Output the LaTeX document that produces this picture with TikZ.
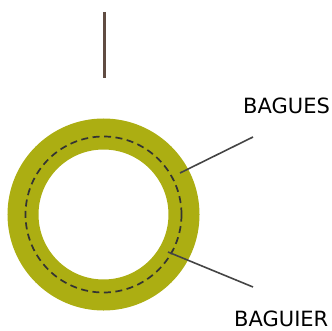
\documentclass[tikz,border=0pt]{standalone}
\usepackage{fontspec}
\setmainfont{DejaVu Sans}
\usepackage{tikz}
\usetikzlibrary{positioning, calc}

\definecolor{ringolive}{RGB}{172,174,18}
\definecolor{stembrown}{RGB}{96,76,66}
\definecolor{leadergray}{RGB}{68,68,68}

\begin{document}
\begin{tikzpicture}[x=1pt, y=1pt,
    % Node styles
    label/.style={anchor=base west, inner sep=0pt, font=\fontsize{21}{24}\selectfont},
    % Line styles
    ring/.style={draw=ringolive, line width=31pt},
    joint/.style={draw=black!80, line width=1.7pt, dash pattern=on 7pt off 4.5pt},
    stem/.style={draw=stembrown, line width=2.6pt},
    leader/.style={draw=leadergray, line width=1.6pt}
]
\useasboundingbox (0,0) rectangle (332,330);
% Ring and joint
\coordinate (c) at (103.5,115.5);
\draw[ring] (c) circle (80.5pt);
\draw[joint] (c) circle (78pt);
% Stem
\coordinate (s1) at (104.3,318);
\coordinate (s2) at (104.3,252);
\draw[stem] (s1) -- (s2);
% Labels
\node[label] (bagues) at (243,216) {BAGUES};
\node[label] (baguier) at (234,3.5) {BAGUIER};
% Leader lines
\coordinate (b1) at (253,193);
\coordinate (b2) at (180,157);
\coordinate (r1) at (253,43);
\coordinate (r2) at (168,78);
\draw[leader] (b1) -- (b2);
\draw[leader] (r1) -- (r2);
\end{tikzpicture}
\end{document}
